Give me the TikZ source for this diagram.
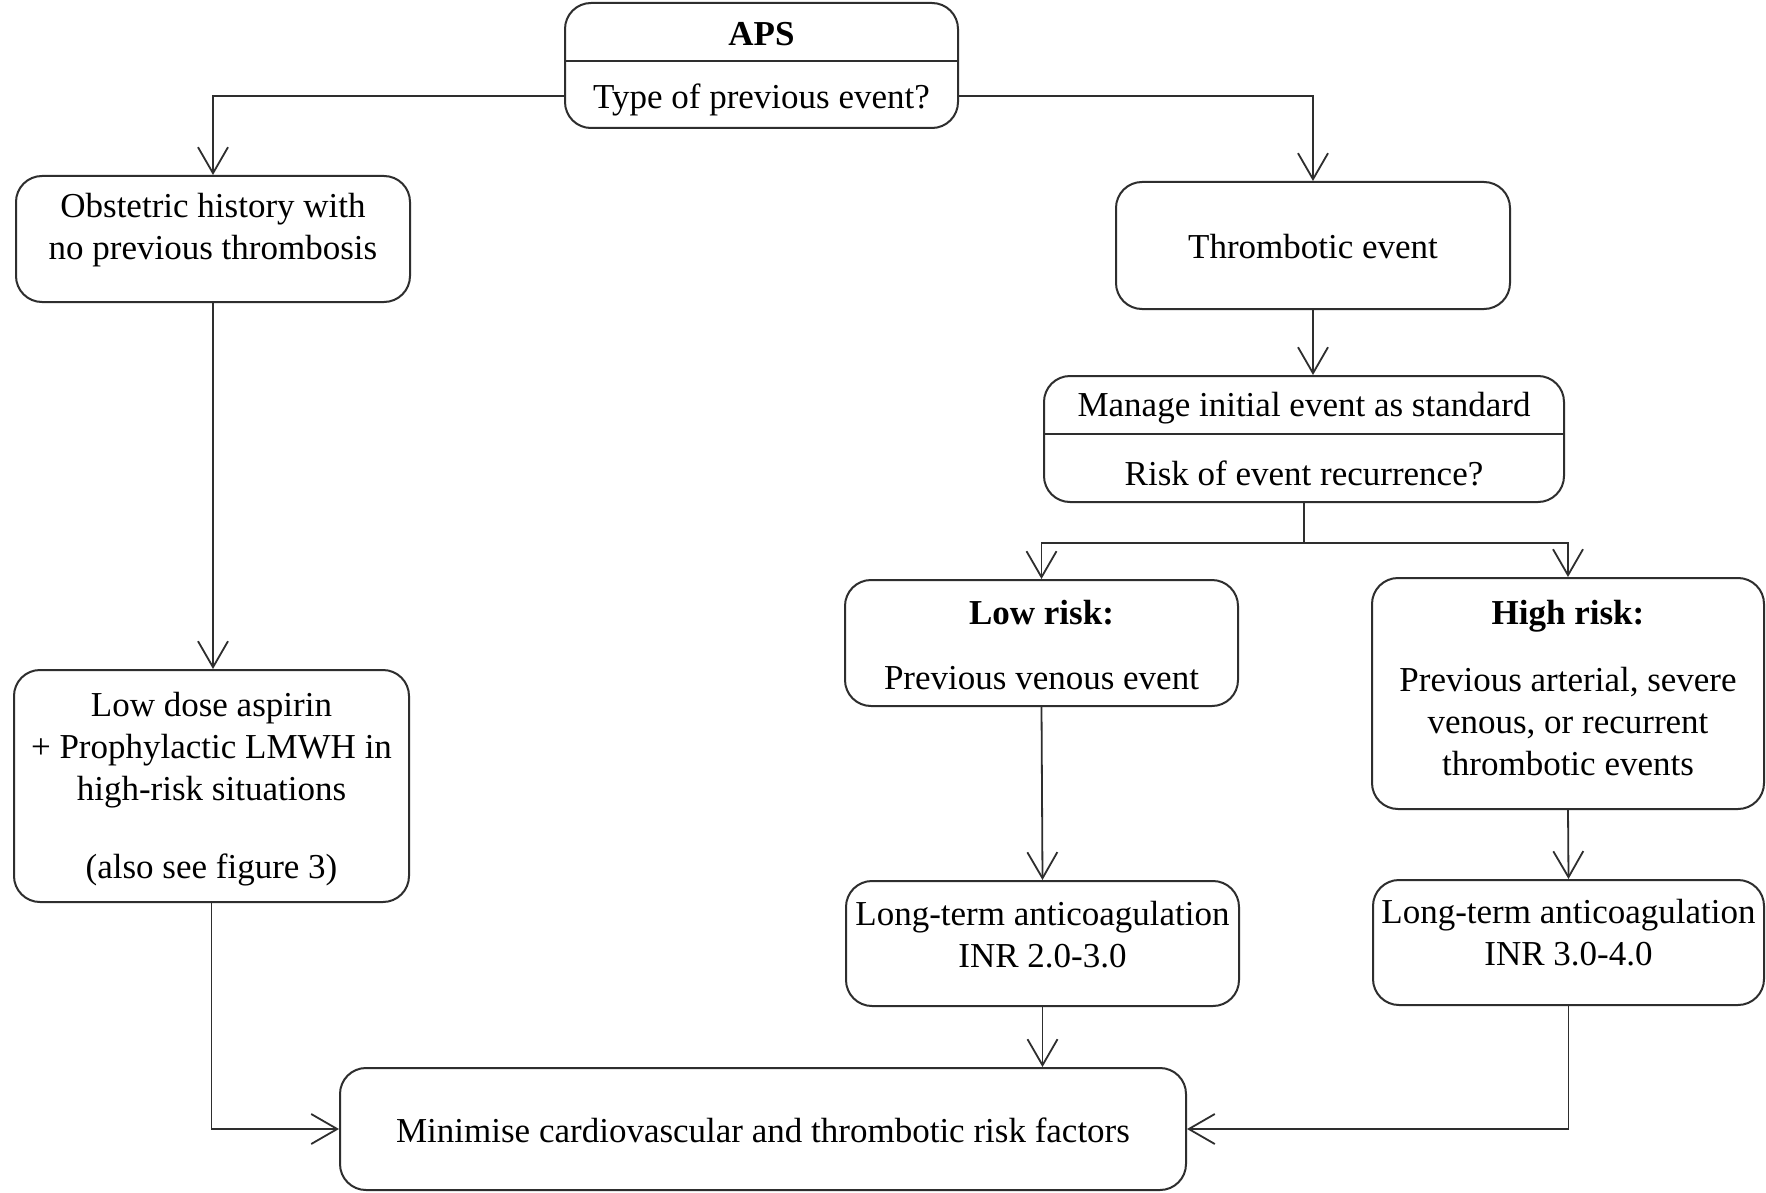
\documentclass[tikz,border=0pt]{standalone}
\usepackage{fontspec}
\setmainfont{Liberation Serif}
\usetikzlibrary{arrows.meta,calc}
\definecolor{linec}{gray}{0.18}
\begin{document}
\begin{tikzpicture}[x=1pt,y=-1pt,
  box/.style={draw=linec, line width=2pt, rounded corners=26pt, inner sep=0pt},
  txt/.style={inner sep=0pt, align=center, text=black, font=\fontsize{35}{42}\selectfont},
  btxt/.style={txt, font=\fontsize{35}{42}\selectfont\bfseries},
  divline/.style={draw=linec, line width=2pt},
  conn/.style={draw=linec, line width=1.8pt, -{Straight Barb[length=26pt,width=30pt]}}
]
\fill[white] (0,0) rectangle (1766,1193);
\useasboundingbox (0,0) rectangle (1766,1193);

% boxes
\node[box, minimum width=393pt, minimum height=125pt] (aps) at (761.5,65.5) {};
\node[box, minimum width=394pt, minimum height=126pt] (obst) at (213,239) {};
\node[box, minimum width=394pt, minimum height=127pt] (thromb) at (1313,245.5) {};
\node[box, minimum width=520pt, minimum height=126pt] (manage) at (1304,439) {};
\node[box, minimum width=393pt, minimum height=126pt] (low) at (1041.5,643) {};
\node[box, minimum width=392pt, minimum height=231pt] (high) at (1568,693.5) {};
\node[box, minimum width=393pt, minimum height=125pt] (ltone) at (1042.5,943.5) {};
\node[box, minimum width=391pt, minimum height=125pt] (lttwo) at (1568.5,942.5) {};
\node[box, minimum width=846pt, minimum height=122pt] (minim) at (763,1129) {};
\node[box, minimum width=395pt, minimum height=232pt] (lowdose) at (211.5,786) {};

% dividers
\coordinate (apsdiv) at (0,61);
\draw[divline] (aps.west |- apsdiv) -- (aps.east |- apsdiv);
\coordinate (mandiv) at (0,434);
\draw[divline] (manage.west |- mandiv) -- (manage.east |- mandiv);

% texts
\node[btxt] (apst) at (761.5,34) {APS};
\node[txt] (apsq) at (761.5,100) {Type of previous event?};
\node[txt] (obstt) at (213,230.5) {Obstetric history with\\no previous thrombosis};
\node[txt] (thrombt) at (1313,247) {Thrombotic event};
\node[txt] (mant) at (1304,408) {Manage initial event as standard};
\node[txt] (manq) at (1304,473) {Risk of event recurrence?};
\node[btxt] (lowt) at (1041.5,613) {Low risk:};
\node[txt] (lowd) at (1041.5,678) {Previous venous event};
\node[btxt] (hight) at (1568,616) {High risk:};
\node[txt] (highd) at (1568,722) {Previous arterial, severe\\venous, or recurrent\\thrombotic events};
\node[txt] (ltonet) at (1042.5,935) {Long-term anticoagulation\\INR 2.0-3.0};
\node[txt] (lttwot) at (1568.5,933) {Long-term anticoagulation\\INR 3.0-4.0};
\node[txt] (minimt) at (763,1130) {Minimise cardiovascular and thrombotic risk factors};
\node[txt] (lowdoset) at (211.5,750) {Low dose aspirin\\+ Prophylactic LMWH in\\high-risk situations};
\node[txt] (lowdosen) at (211.5,870) {(also see figure 3)};

% connectors
\coordinate (apsline) at (0,96);
\draw[conn] (apsline -| aps.west) -| (obst.north);
\draw[conn] (apsline -| aps.east) -| (thromb.north);
\draw[conn] (thromb.south) -- (thromb.south |- manage.north);
\coordinate (split) at ($(manage.south)+(0,40)$);
\draw[divline, line width=1.8pt] (manage.south) -- (split);
\draw[conn] (split) -| (low.north);
\draw[conn] (split) -| (high.north);
\draw[conn] (obst.south) -- (obst.south |- lowdose.north);
\draw[conn] (low.south) -- (ltone.north);
\draw[conn] (high.south) -- (lttwo.north);
\draw[conn] (ltone.south) -- (ltone.south |- minim.north);
\draw[conn] (lowdose.south) |- (minim.west);
\draw[conn] (lttwo.south) |- (minim.east);
\end{tikzpicture}
\end{document}
